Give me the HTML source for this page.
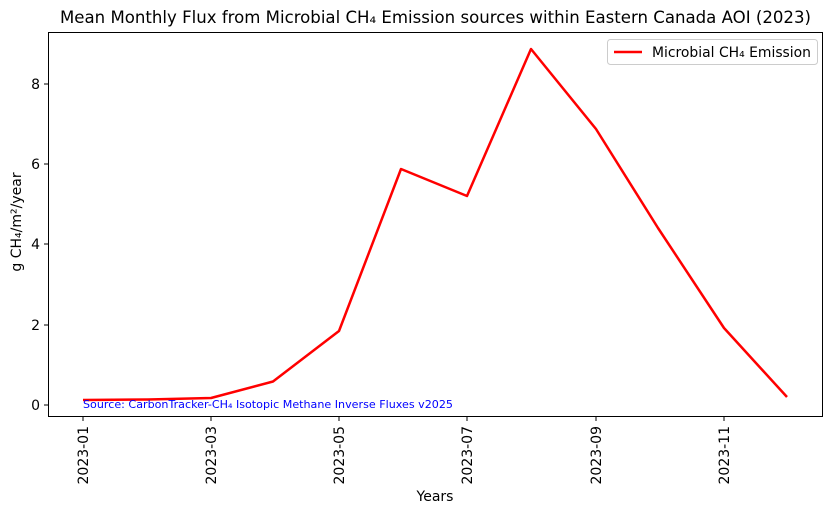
<!DOCTYPE html>
<html><head><meta charset="utf-8"><style>
body{margin:0;background:#fff}
svg{display:block}
text{font-family:"DejaVu Sans","Liberation Sans",sans-serif;fill:#000}
</style></head><body>
<svg width="833" height="514" viewBox="0 0 833 514" xmlns="http://www.w3.org/2000/svg">
<rect width="833" height="514" fill="#fff"/>
<text x="60" y="23" font-size="16.5" textLength="751" lengthAdjust="spacingAndGlyphs">Mean Monthly Flux from Microbial CH₄ Emission sources within Eastern Canada AOI (2023)</text>
<polyline fill="none" stroke="#ff0000" stroke-width="2.5" stroke-linejoin="round"
 points="83,400 148,399.5 211,398 273,381.5 339,331 401,169 467,196 531,49 596,129 658,228 724,328 787,397"/>
<rect x="48.5" y="32.5" width="774" height="384" fill="none" stroke="#000" stroke-width="1"/>
<g stroke="#000" stroke-width="1">
<line x1="48" y1="405" x2="44" y2="405"/><line x1="48" y1="325" x2="44" y2="325"/><line x1="48" y1="244" x2="44" y2="244"/><line x1="48" y1="164" x2="44" y2="164"/><line x1="48" y1="84" x2="44" y2="84"/>
<line x1="83" y1="417" x2="83" y2="421"/><line x1="211" y1="417" x2="211" y2="421"/><line x1="339" y1="417" x2="339" y2="421"/><line x1="467" y1="417" x2="467" y2="421"/><line x1="596" y1="417" x2="596" y2="421"/><line x1="724" y1="417" x2="724" y2="421"/>
</g>
<g font-size="14" text-anchor="end">
<text x="40" y="410">0</text><text x="40" y="330">2</text><text x="40" y="249">4</text><text x="40" y="169">6</text><text x="40" y="89">8</text>
</g>
<g font-size="14" text-anchor="end">
<text transform="translate(88,426) rotate(-90)">2023-01</text>
<text transform="translate(216,426) rotate(-90)">2023-03</text>
<text transform="translate(344,426) rotate(-90)">2023-05</text>
<text transform="translate(472,426) rotate(-90)">2023-07</text>
<text transform="translate(601,426) rotate(-90)">2023-09</text>
<text transform="translate(729,426) rotate(-90)">2023-11</text>
</g>
<text x="435" y="501" font-size="14" text-anchor="middle">Years</text>
<text transform="translate(21,222) rotate(-90)" font-size="14" text-anchor="middle">g CH₄/m²/year</text>
<text x="83" y="408" font-size="11" textLength="370" lengthAdjust="spacingAndGlyphs" style="fill:#0000ff">Source: CarbonTracker-CH₄ Isotopic Methane Inverse Fluxes v2025</text>
<rect x="607.5" y="39.5" width="210" height="25" rx="3" fill="#fff" stroke="#ccc"/>
<line x1="614" y1="52" x2="642" y2="52" stroke="#ff0000" stroke-width="2.5"/>
<text x="652" y="57" font-size="14" textLength="159" lengthAdjust="spacingAndGlyphs">Microbial CH₄ Emission</text>
</svg>
</body></html>
